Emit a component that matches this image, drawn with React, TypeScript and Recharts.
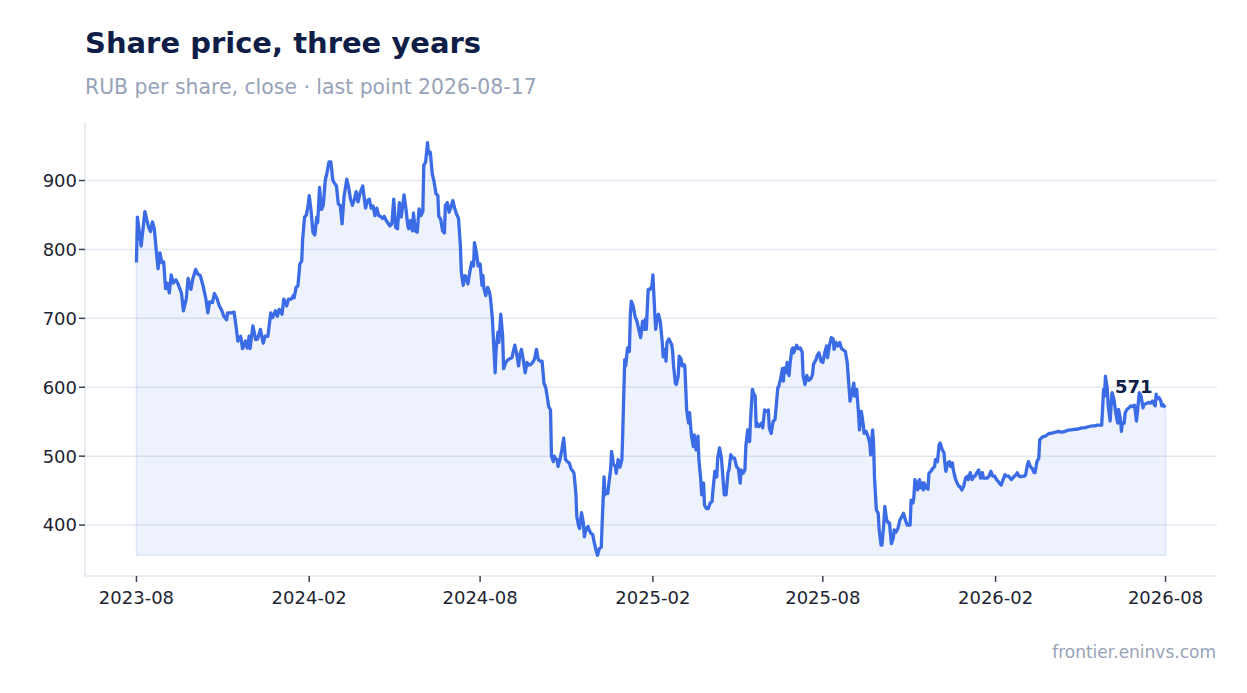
import React from 'react';
import { ComposedChart, Area, Line, XAxis, YAxis, ReferenceLine } from 'recharts';

// Days since 2023-08-17 (first close) and closing price, RUB per share
const START_DATE = '2023-08-17';

const days = [
  0, 1, 5, 9, 13, 15, 17, 19, 21, 23, 25, 27, 29, 31, 33, 35, 37, 39, 42, 44, 47, 48, 50, 53, 55, 58, 60, 63, 65, 68,
  71, 74, 76, 78, 81, 83, 86, 88, 91, 93, 96, 97, 101, 104, 106, 108, 111, 113, 116, 118, 120, 121, 124, 127, 129, 132, 135, 137, 140, 143,
  145, 148, 150, 152, 155, 157, 160, 162, 165, 167, 168, 170, 172, 174, 176, 177, 179, 181, 183, 184, 186, 188, 190, 192, 193, 195, 197, 199, 201, 203,
  205, 207, 209, 210, 213, 215, 217, 219, 221, 224, 226, 228, 230, 232, 234, 236, 238, 241, 242, 244, 246, 248, 250, 252, 254, 256, 258, 260, 262, 264,
  266, 270, 272, 274, 276, 278, 280, 282, 284, 285, 287, 289, 290, 292, 294, 295, 297, 299, 301, 303, 305, 306, 308, 310, 311, 313, 315, 317, 319, 321,
  322, 324, 326, 328, 329, 331, 333, 335, 337, 339, 341, 343, 345, 346, 348, 350, 352, 353, 355, 357, 359, 360, 362, 364, 366, 368, 369, 370, 372, 374,
  376, 377, 379, 380, 382, 383, 385, 386, 388, 390, 391, 393, 395, 397, 400, 401, 403, 405, 407, 408, 410, 412, 414, 416, 418, 420, 422, 424, 426, 428,
  430, 432, 434, 436, 438, 439, 441, 442, 444, 445, 446, 448, 449, 451, 453, 455, 457, 459, 461, 463, 465, 466, 468, 469, 471, 472, 474, 476, 477, 479,
  481, 482, 484, 486, 487, 489, 491, 493, 495, 496, 498, 499, 500, 502, 503, 505, 506, 508, 510, 511, 513, 515, 517, 518, 520, 521, 523, 525, 526, 527,
  529, 531, 533, 535, 537, 539, 541, 542, 543, 545, 547, 549, 550, 552, 553, 555, 556, 558, 560, 561, 563, 564, 565, 567, 570, 571, 572, 574, 575, 577,
  578, 580, 581, 583, 584, 586, 588, 589, 591, 593, 594, 596, 598, 599, 601, 602, 604, 605, 607, 609, 611, 613, 614, 616, 618, 619, 621, 623, 624, 626,
  628, 630, 631, 633, 635, 637, 639, 641, 643, 644, 646, 648, 649, 651, 653, 654, 656, 657, 659, 660, 661, 663, 666, 667, 669, 671, 673, 674, 676, 678,
  680, 681, 683, 684, 686, 688, 689, 690, 692, 693, 695, 696, 698, 699, 700, 703, 705, 707, 709, 710, 712, 714, 716, 718, 720, 721, 724, 725, 727, 729,
  731, 733, 735, 736, 738, 740, 742, 743, 745, 747, 749, 751, 753, 755, 757, 758, 760, 762, 764, 765, 767, 769, 770, 772, 774, 775, 777, 779, 781, 782,
  784, 785, 786, 788, 790, 791, 793, 794, 796, 797, 799, 801, 802, 804, 806, 807, 809, 811, 813, 815, 817, 819, 821, 822, 824, 825, 827, 828, 829, 831,
  832, 834, 835, 837, 838, 839, 841, 843, 844, 846, 848, 850, 851, 853, 855, 856, 858, 860, 861, 862, 864, 866, 867, 869, 870, 872, 874, 876, 877, 879,
  881, 883, 885, 886, 888, 890, 892, 893, 895, 897, 899, 901, 902, 904, 906, 908, 910, 912, 914, 916, 918, 919, 921, 923, 925, 927, 929, 931, 932, 935,
  937, 938, 940, 942, 944, 946, 947, 949, 950, 952, 954, 956, 957, 959, 961, 962, 963, 965, 968, 970, 972, 974, 977, 979, 982, 984, 986, 989, 991, 994,
  996, 999, 1002, 1004, 1007, 1010, 1012, 1015, 1018, 1021, 1023, 1026, 1028, 1030, 1031, 1032, 1034, 1035, 1037, 1038, 1039, 1041, 1043, 1045, 1046, 1048, 1049, 1050, 1052, 1053,
  1055, 1057, 1059, 1061, 1063, 1065, 1066, 1068, 1069, 1070, 1072, 1073, 1075, 1078, 1080, 1082, 1083, 1085, 1086, 1087, 1089, 1091, 1092, 1093, 1095, 1096,
];

const prices = [
  781, 847, 805, 855, 832, 826, 840, 830, 800, 772, 795, 781, 782, 743, 751, 737, 763, 751, 756, 751, 740, 736, 711, 728, 758, 742, 757, 771, 765, 762,
  747, 728, 708, 724, 723, 736, 728, 719, 711, 703, 698, 708, 708, 709, 689, 667, 674, 656, 667, 657, 674, 656, 689, 669, 670, 684, 664, 674, 674, 708,
  701, 711, 703, 713, 706, 728, 718, 728, 728, 733, 730, 745, 747, 779, 783, 815, 847, 850, 866, 878, 856, 825, 821, 847, 839, 890, 858, 864, 900, 912,
  927, 927, 902, 898, 892, 866, 864, 837, 876, 902, 890, 873, 864, 872, 884, 869, 881, 892, 881, 860, 871, 873, 860, 863, 849, 860, 849, 848, 845, 848,
  842, 834, 837, 873, 832, 830, 868, 847, 868, 879, 859, 834, 830, 842, 827, 853, 827, 825, 859, 849, 855, 922, 927, 955, 939, 941, 910, 898, 881, 878,
  848, 844, 827, 824, 864, 868, 854, 862, 871, 859, 851, 845, 805, 767, 748, 762, 757, 750, 767, 781, 776, 810, 796, 776, 779, 748, 762, 744, 733, 745,
  738, 730, 701, 674, 621, 655, 680, 665, 706, 674, 627, 635, 639, 641, 643, 650, 661, 648, 631, 645, 655, 640, 621, 636, 632, 633, 636, 641, 655, 640,
  638, 638, 606, 599, 582, 572, 567, 500, 492, 500, 497, 495, 485, 495, 509, 526, 495, 492, 490, 481, 478, 475, 446, 412, 398, 395, 418, 403, 383, 395,
  398, 393, 388, 386, 378, 366, 356, 366, 368, 403, 470, 444, 449, 446, 459, 481, 507, 488, 485, 475, 495, 484, 495, 538, 640, 631, 657, 652, 706, 725,
  718, 703, 696, 684, 672, 696, 684, 699, 684, 742, 742, 747, 763, 708, 684, 703, 706, 694, 665, 644, 655, 638, 665, 670, 662, 653, 631, 606, 604, 616,
  645, 641, 631, 633, 631, 567, 548, 563, 531, 514, 531, 509, 529, 495, 466, 444, 461, 429, 424, 424, 432, 434, 451, 478, 470, 497, 512, 497, 480, 444,
  444, 476, 480, 502, 497, 497, 485, 482, 461, 480, 475, 480, 514, 538, 521, 553, 597, 592, 587, 543, 548, 543, 548, 541, 567, 565, 567, 541, 533, 550,
  553, 567, 599, 601, 612, 627, 609, 628, 621, 636, 617, 633, 655, 657, 650, 661, 656, 657, 651, 617, 604, 617, 610, 612, 618, 633, 641, 646, 650, 638,
  636, 650, 660, 643, 660, 672, 670, 655, 665, 660, 665, 656, 654, 652, 636, 617, 580, 592, 606, 587, 597, 563, 538, 565, 546, 533, 536, 529, 519, 502,
  538, 519, 470, 422, 417, 393, 371, 371, 403, 427, 407, 403, 403, 373, 381, 393, 390, 395, 407, 412, 417, 407, 400, 400, 400, 436, 432, 441, 466, 461,
  451, 466, 454, 461, 451, 461, 454, 452, 475, 478, 482, 485, 495, 492, 517, 519, 510, 505, 490, 478, 490, 492, 485, 490, 480, 468, 461, 456, 456, 451,
  456, 468, 471, 466, 476, 466, 471, 471, 476, 480, 468, 476, 468, 468, 468, 471, 478, 471, 471, 466, 463, 461, 458, 466, 473, 471, 471, 467, 466, 471,
  473, 476, 471, 470, 471, 471, 473, 488, 492, 485, 482, 476, 476, 492, 497, 524, 525, 528, 529, 531, 533, 533, 534, 535, 536, 535, 535, 536, 537, 538,
  538, 539, 539, 540, 541, 541, 542, 543, 544, 544, 545, 545, 545, 597, 587, 616, 597, 573, 551, 573, 592, 583, 563, 548, 568, 553, 536, 548, 548, 563,
  568, 570, 573, 572, 574, 551, 563, 592, 590, 587, 570, 575, 576, 578, 577, 580, 577, 573, 590, 583, 585, 580, 573, 575, 572, 571,
];

const tickDays = [0, 184, 366, 550, 731, 915, 1096];
const tickLabels = ['2023-08', '2024-02', '2024-08', '2025-02', '2025-08', '2026-02', '2026-08'];
const yTicks = [400, 500, 600, 700, 800, 900];

const TITLE = 'Share price, three years';
const SUBTITLE = 'RUB per share, close · last point 2026-08-17';
const SOURCE = 'frontier.eninvs.com';

const data = days.map((d, i) => ({ day: d, price: prices[i] }));
const minPrice = Math.min(...prices);
const maxPrice = Math.max(...prices);
const lastIndex = prices.length - 1;
const lastDay = days[lastIndex];
const yPad = (maxPrice - minPrice) * 0.05;
const xPad = lastDay * 0.05;

const LINE_COLOR = '#3b6ce6';
const NAVY = '#0f1e46';
const MUTED = '#97a3b8';
const AXIS = '#e3e8f0';
const GRID = 'rgba(140,158,200,0.24)';
const FONT = '"DejaVu Sans", sans-serif';

const renderDot = (props: any) => {
  const { cx, cy, index } = props;
  if (index !== lastIndex) return <g key={`d${index}`} />;
  return (
    <text
      key="last-label"
      x={cx - 13}
      y={cy - 14}
      textAnchor="end"
      fontSize={18}
      fontWeight="bold"
      fill={NAVY}
      fontFamily={FONT}
    >
      {String(prices[lastIndex])}
    </text>
  );
};

export default function App() {
  return (
    <div
      style={{
        position: 'absolute',
        left: 0,
        top: 0,
        width: 1247,
        height: 693,
        background: '#ffffff',
        fontFamily: FONT,
        overflow: 'hidden',
      }}
    >
      <div style={{ position: 'absolute', left: 0, top: 0 }}>
        <ComposedChart
          width={1247}
          height={693}
          data={data}
          margin={{ top: 122, right: 30, bottom: 87, left: 25 }}
        >
          <XAxis
            type="number"
            dataKey="day"
            domain={[-xPad, lastDay + xPad]}
            ticks={tickDays}
            interval={0}
            allowDataOverflow
            tickFormatter={(v: number) => tickLabels[tickDays.indexOf(v)] ?? ''}
            height={30}
            tickSize={6}
            tickMargin={9}
            axisLine={{ stroke: AXIS, strokeWidth: 1.5 }}
            tickLine={{ stroke: '#3a4252', strokeWidth: 1.5 }}
            tick={{ fill: '#1e2433', fontSize: 18, fontFamily: FONT }}
          />
          <YAxis
            type="number"
            domain={[minPrice - yPad, maxPrice + yPad]}
            ticks={yTicks}
            interval={0}
            allowDataOverflow
            width={60}
            tickSize={6}
            tickMargin={2}
            axisLine={{ stroke: AXIS, strokeWidth: 1.5 }}
            tickLine={{ stroke: '#3a4252', strokeWidth: 1.5 }}
            tick={{ fill: '#1e2433', fontSize: 18, fontFamily: FONT }}
          />
          {yTicks.map((t) => (
            <ReferenceLine key={`g${t}`} y={t} stroke={GRID} strokeWidth={1.5} />
          ))}
          <Area
            type="linear"
            dataKey="price"
            baseValue={minPrice}
            stroke="none"
            fill={LINE_COLOR}
            fillOpacity={0.09}
            dot={false}
            activeDot={false}
            isAnimationActive={false}
          />
          <ReferenceLine
            segment={[{ x: 0, y: minPrice }, { x: lastDay, y: minPrice }]}
            stroke={LINE_COLOR}
            strokeOpacity={0.12}
            strokeWidth={1.5}
          />
          <ReferenceLine
            segment={[{ x: 0, y: minPrice }, { x: 0, y: prices[0] }]}
            stroke={LINE_COLOR}
            strokeOpacity={0.12}
            strokeWidth={1.5}
          />
          <ReferenceLine
            segment={[{ x: lastDay, y: minPrice }, { x: lastDay, y: prices[lastIndex] }]}
            stroke={LINE_COLOR}
            strokeOpacity={0.12}
            strokeWidth={1.5}
          />
          <Line
            type="linear"
            dataKey="price"
            stroke={LINE_COLOR}
            strokeWidth={3.3}
            strokeLinejoin="round"
            dot={renderDot}
            activeDot={false}
            isAnimationActive={false}
          />
        </ComposedChart>
      </div>
      <div
        style={{
          position: 'absolute',
          left: 85,
          top: 29,
          fontSize: 29,
          fontWeight: 700,
          lineHeight: 1,
          color: NAVY,
          whiteSpace: 'nowrap',
        }}
      >
        {TITLE}
      </div>
      <div
        style={{
          position: 'absolute',
          left: 85,
          top: 77,
          fontSize: 20.4,
          lineHeight: 1,
          color: MUTED,
          whiteSpace: 'nowrap',
        }}
      >
        {SUBTITLE}
      </div>
      <div
        style={{
          position: 'absolute',
          right: 31,
          top: 644,
          fontSize: 17,
          lineHeight: 1,
          color: MUTED,
          whiteSpace: 'nowrap',
        }}
      >
        {SOURCE}
      </div>
    </div>
  );
}
